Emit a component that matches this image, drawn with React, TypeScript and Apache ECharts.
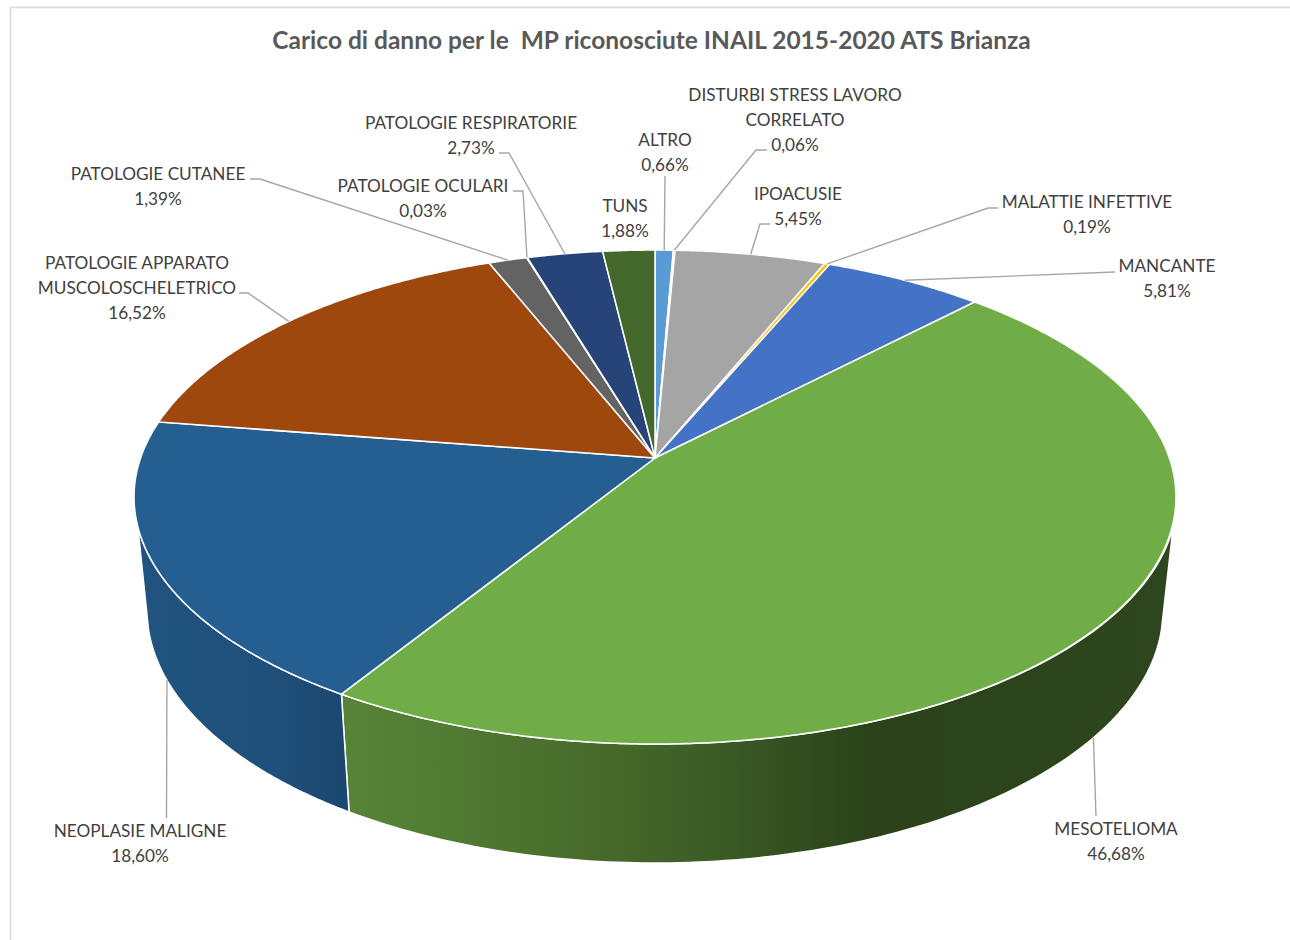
import React, { useEffect, useRef } from "react";
import * as echarts from "echarts";

const TITLE = "Carico di danno per le  MP riconosciute INAIL 2015-2020 ATS Brianza";
const categories = [
  "ALTRO",
  "DISTURBI STRESS LAVORO\nCORRELATO",
  "IPOACUSIE",
  "MALATTIE INFETTIVE",
  "MANCANTE",
  "MESOTELIOMA",
  "NEOPLASIE MALIGNE",
  "PATOLOGIE APPARATO\nMUSCOLOSCHELETRICO",
  "PATOLOGIE CUTANEE",
  "PATOLOGIE OCULARI",
  "PATOLOGIE RESPIRATORIE",
  "TUNS",
];
const values = [0.66, 0.06, 5.45, 0.19, 5.81, 46.68, 18.6, 16.52, 1.39, 0.03, 2.73, 1.88];
const colors = ["#5b9bd5", "#ed7d31", "#a5a5a5", "#ffc000", "#4472c4", "#70ad47", "#255e91", "#9e480e", "#636363", "#997300", "#264478", "#43682b"];

// Label block centre and elbow points of each leader (layout only)
const labelCentres: number[][] = [
  [665, 151.5], [795, 119], [798, 205.5], [1087, 214], [1167, 277.5], [1116, 840.5],
  [140, 843], [137, 287], [158, 185.5], [423, 198], [471, 134.5], [625, 218],
];
const leaderElbows: number[][][] = [
  [[665, 176]],
  [[767, 150], [756, 150]],
  [[770, 224], [760, 224]],
  [[998, 208], [988, 208]],
  [[1115, 272]],
  [[1096, 816]],
  [[166.5, 818]],
  [[239, 293], [248, 293]],
  [[250, 179], [260, 179]],
  [[513, 191], [523, 191]],
  [[499, 153], [509, 153]],
  [],
];

const APEX = { x: 655, y: 458 };
const K = 0.158, A = 240.8, B = 514.4;
const TOP = { cx: 655.5, cy: 497, rx: 521.5, ry: 247 };
const BASE = { cx: 655, cy: 610, rx: 508, ry: 253 };
const total = values.reduce((s, v) => s + v, 0);
const D2R = Math.PI / 180;

const cumulative: number[][] = [];
{
  let acc = 0;
  for (const v of values) {
    cumulative.push([acc, acc + v]);
    acc += v;
  }
}

// Pie fraction -> point on the tilted disc (perspective of a circle)
function topPoint(pct: number) {
  const t = (pct / total) * 2 * Math.PI;
  const u = Math.sin(t), v = Math.cos(t);
  const d = 1 + K * v;
  return [APEX.x + (B * u) / d, APEX.y - (A * v) / d];
}
function ellipseAngle(pct: number) {
  const [x, y] = topPoint(pct);
  let a = Math.atan2((y - TOP.cy) / TOP.ry, (x - TOP.cx) / TOP.rx) / D2R;
  if (a < -90) a += 360;
  return a;
}
function onEllipse(e: typeof TOP, deg: number) {
  return [e.cx + e.rx * Math.cos(deg * D2R), e.cy + e.ry * Math.sin(deg * D2R)];
}
function anchorPoint(mid: number) {
  const a = ellipseAngle(mid);
  return a > 8 && a < 172 ? onEllipse(BASE, a) : topPoint(mid);
}
const fmt = (v: number) => v.toFixed(2).replace(".", ",") + "%";

const wallFills: Record<number, any> = {
  5: new echarts.graphic.LinearGradient(341, 0, 1177, 0, [
    { offset: 0, color: "#578538" },
    { offset: 0.27, color: "#4a6e2d" },
    { offset: 0.45, color: "#3b5b25" },
    { offset: 0.63, color: "#2b421a" },
    { offset: 1, color: "#2d461e" },
  ], true),
  6: new echarts.graphic.LinearGradient(146, 0, 348, 0, [
    { offset: 0, color: "#20537f" },
    { offset: 0.6, color: "#1f507b" },
    { offset: 1, color: "#1b476f" },
  ], true),
};

const rows = cumulative.map((c, i) => ({ name: categories[i], value: [c[0], c[1], values[i]] }));

const FONT = "Lato, Carlito, sans-serif";

function renderWall(params: any, api: any) {
  const a = ellipseAngle(api.value(0)), b = ellipseAngle(api.value(1));
  const lo = Math.max(a, 7), hi = Math.min(b, 173);
  if (lo >= hi) return { type: "group", children: [] };
  const pts: number[][] = [];
  const N = 120;
  for (let i = 0; i <= N; i++) pts.push(onEllipse(TOP, lo + ((hi - lo) * i) / N));
  const baseHi = hi === 173 ? 175.5 : hi, baseLo = lo === 7 ? 4.5 : lo;
  for (let i = N; i >= 0; i--) pts.push(onEllipse(BASE, baseLo + ((baseHi - baseLo) * i) / N));
  return {
    type: "polygon",
    shape: { points: pts },
    style: { fill: wallFills[params.dataIndex] || colors[params.dataIndex], stroke: "#ffffff", lineWidth: 1.5 },
  };
}
function renderTop(params: any, api: any) {
  const s = api.value(0), e = api.value(1);
  const pts: number[][] = [[APEX.x, APEX.y]];
  const N = Math.max(2, Math.ceil((e - s) * 8));
  for (let i = 0; i <= N; i++) pts.push(topPoint(s + ((e - s) * i) / N));
  return {
    type: "polygon",
    shape: { points: pts },
    style: { fill: colors[params.dataIndex], stroke: "#ffffff", lineWidth: 1.5 },
  };
}
function renderLabel(params: any, api: any) {
  const i = params.dataIndex;
  const children: any[] = [];
  const mid = (api.value(0) + api.value(1)) / 2;
  const elbows = leaderElbows[i];
  if (elbows.length) {
    children.push({
      type: "polyline",
      shape: { points: [...elbows, anchorPoint(mid)] },
      style: { fill: "none", stroke: "#a6a6a6", lineWidth: 1.4 },
    });
  }
  children.push({
    type: "text",
    style: {
      text: categories[i] + "\n" + fmt(api.value(2)),
      x: labelCentres[i][0],
      y: labelCentres[i][1],
      align: "center",
      verticalAlign: "middle",
      fill: "#404040",
      font: `17.2px ${FONT}`,
      lineHeight: 25,
    },
  });
  return { type: "group", children };
}

export default function App() {
  const ref = useRef<HTMLDivElement>(null);
  useEffect(() => {
    const chart = echarts.init(ref.current!, null, { renderer: "svg" });
    const base = { type: "custom", coordinateSystem: "none", data: rows, silent: true, clip: false };
    chart.setOption({
      animation: false,
      backgroundColor: "#ffffff",
      title: {
        text: TITLE,
        left: 646.5,
        top: 22,
        textAlign: "center",
        textStyle: { color: "#595959", fontFamily: FONT, fontWeight: "bold", fontSize: 24.5 },
      },
      graphic: [
        { type: "line", shape: { x1: 10, y1: 7.5, x2: 1290, y2: 7.5 }, style: { stroke: "#d9d9d9", lineWidth: 1.5 } },
        { type: "line", shape: { x1: 10.5, y1: 7, x2: 10.5, y2: 940 }, style: { stroke: "#d9d9d9", lineWidth: 1.5 } },
      ],
      series: [
        { ...base, z: 1, renderItem: renderWall },
        { ...base, z: 2, renderItem: renderTop },
        { ...base, z: 3, renderItem: renderLabel },
      ],
    });
    return () => chart.dispose();
  }, []);
  return <div ref={ref} style={{ position: "absolute", left: 0, top: 0, width: 1290, height: 940 }} />;
}
